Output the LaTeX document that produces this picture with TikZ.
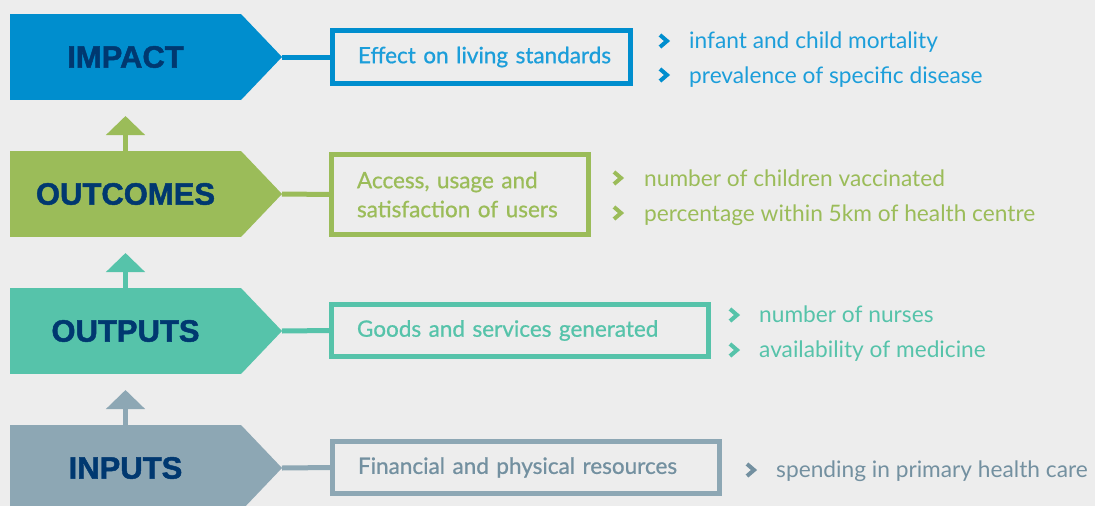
\documentclass[tikz,border=0pt]{standalone}
\usepackage{fontspec}
\setmainfont{Lato}
\newfontfamily\boxfont{Lato}[FakeBold=0.8]
\newfontfamily\titlefont{Liberation Sans}[BoldFeatures={FakeBold=1.5}]
\usetikzlibrary{arrows.meta}

\definecolor{bggray}{RGB}{237,237,237}
\definecolor{navy}{RGB}{0,56,112}
\definecolor{impactblue}{RGB}{0,142,206}
\definecolor{impacttext}{RGB}{28,158,218}
\definecolor{outgreen}{RGB}{155,188,89}
\definecolor{outteal}{RGB}{86,195,170}
\definecolor{inpgray}{RGB}{141,167,180}
\definecolor{inptext}{RGB}{115,144,160}

\tikzset{
  stage/.style={fill=#1, minimum width=231pt, minimum height=86pt, inner sep=0pt, outer sep=0pt,
    text=navy, font=\titlefont\bfseries\fontsize{31}{31}\selectfont},
  result/.style={draw=#1, line width=5pt, inner xsep=25.5pt, inner ysep=0pt, outer sep=0pt,
    align=left, font=\boxfont\fontsize{22.5}{29}\selectfont},
  item/.style={anchor=base west, inner sep=0pt, text=#1, font=\fontsize{22.7}{22.7}\selectfont},
  chev/.style={draw=#1, line width=4pt, line join=miter},
  link/.style={draw=#1, line width=5pt},
  up/.style={draw=#1, line width=5pt, -{Triangle[width=38pt,length=19pt]}}
}

\begin{document}
\begin{tikzpicture}[x=1pt, y=-1pt]
	\path[use as bounding box, fill=bggray] (0,0) rectangle (1095,506);
	\clip (0,0) rectangle (1095,506);

	% stages
	\node[stage=impactblue] (impact) at (125.5,57) {IMPACT};
	\node[stage=outgreen] (outcomes) at (125.5,194) {OUTCOMES};
	\node[stage=outteal] (outputs) at (125.5,331) {OUTPUTS};
	\node[stage=inpgray] (inputs) at (125.5,468) {INPUTS};

	\fill[impactblue] (impact.north east) -- ([xshift=41pt]impact.east) coordinate (impacttip) -- (impact.south east) -- cycle;
	\fill[outgreen] (outcomes.north east) -- ([xshift=41pt]outcomes.east) coordinate (outcomestip) -- (outcomes.south east) -- cycle;
	\fill[outteal] (outputs.north east) -- ([xshift=41pt]outputs.east) coordinate (outputstip) -- (outputs.south east) -- cycle;
	\fill[inpgray] (inputs.north east) -- ([xshift=41pt]inputs.east) coordinate (inputstip) -- (inputs.south east) -- cycle;

	% upward arrows
	\draw[up=outgreen] (outcomes.north) -- ([yshift=-16pt]impact.south);
	\draw[up=outteal] (outputs.north) -- ([yshift=-16pt]outcomes.south);
	\draw[up=inpgray] (inputs.north) -- ([yshift=-16pt]outputs.south);

	% result boxes
	\node[result=impactblue, text=impacttext, text width=247pt, minimum height=53pt] (effect) at (481.5,57) {\mbox{Effect on living standards}};
	\node[result=outgreen, text=outgreen, text width=206pt, minimum height=80pt] (access) at (460,194.5) {Access, usage and\\satisfaction of users};
	\node[result=outteal, text=outteal, text width=326pt, minimum height=52pt] (goods) at (520,330.5) {\mbox{Goods and services generated}};
	\node[result=inpgray, text=inptext, text width=336pt, minimum height=52pt] (resources) at (526,467.5) {\mbox{Financial and physical resources}};

	\draw[link=impactblue] (impacttip) -- (effect.west);
	\draw[link=outgreen] (outcomestip) -- (access.west);
	\draw[link=outteal] (outputstip) -- (goods.west);
	\draw[link=inpgray] (inputstip) -- (resources.west);

	% indicators
	\draw[chev=impactblue] (660,35) -- (667,41) -- (660,47);
	\draw[chev=impactblue] (660,69) -- (667,75) -- (660,81);
	\node[item=impacttext] (mortality) at (689,48) {infant and child mortality};
	\node[item=impacttext] (disease) at (689,83) {prevalence of specific disease};

	\draw[chev=outgreen] (614,172) -- (621,178) -- (614,184);
	\draw[chev=outgreen] (614,207) -- (621,213) -- (614,219);
	\node[item=outgreen] (vaccinated) at (644,186) {number of children vaccinated};
	\node[item=outgreen] (centre) at (644,221) {percentage within 5km of health centre};

	\draw[chev=outteal] (730,309) -- (737,315) -- (730,321);
	\draw[chev=outteal] (730,344) -- (737,350) -- (730,356);
	\node[item=outteal] (nurses) at (759,322) {number of nurses};
	\node[item=outteal] (medicine) at (759,357) {availability of medicine};

	\draw[chev=inptext] (747,464) -- (754,470) -- (747,476);
	\node[item=inptext] (spending) at (776,477) {spending in primary health care};
\end{tikzpicture}
\end{document}
